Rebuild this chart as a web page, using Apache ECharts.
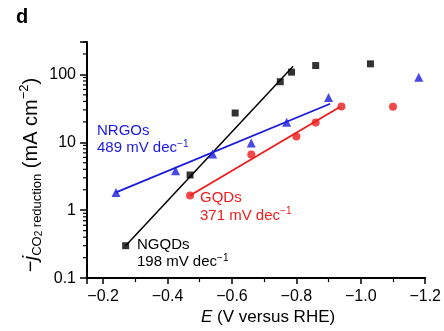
<!DOCTYPE html>
<html><head><meta charset="utf-8">
<script src="https://cdn.jsdelivr.net/npm/echarts@6/dist/echarts.min.js"></script>
<style>html,body{margin:0;padding:0;background:#fff}#c{width:444px;height:331px}</style>
</head><body><div id="c"></div>
<script>
// ---- data ----
const ngqdE = [-0.27, -0.47, -0.61, -0.75, -0.785, -0.86, -1.03];
const ngqdJ = [0.30, 3.3, 27, 78, 108, 135, 143];
const nrgoE = [-0.24, -0.425, -0.54, -0.66, -0.77, -0.90, -1.18];
const nrgoJ = [1.83, 3.8, 6.7, 9.8, 19.7, 45.7, 91];
const gqdE = [-0.47, -0.66, -0.80, -0.86, -0.94, -1.10];
const gqdJ = [1.65, 6.6, 12.2, 19.5, 33.7, 33.4];
const ngqdFitE = [-0.27, -0.79];
const ngqdFitJ = [0.30, 132];
const nrgoFitE = [-0.24, -0.905];
const nrgoFitJ = [1.83, 37];
const gqdFitE = [-0.47, -0.935];
const gqdFitJ = [1.65, 33];
const xTickLabels = [-0.2, -0.4, -0.6, -0.8, -1.0, -1.2];
const yTickLabels = [0.1, 1, 10, 100];
const yMinorTicks = [0.2,0.3,0.4,0.5,0.6,0.7,0.8,0.9,2,3,4,5,6,7,8,9,20,30,40,50,60,70,80,90,200,300];

const zip = (a, b) => a.map((v, i) => [v, b[i]]);
const FONT = '"Liberation Sans", Arial, sans-serif';
const BLUE = '#1a1ae0', RED = '#ee1c1c';

const chart = echarts.init(document.getElementById('c'), null, {renderer: 'canvas'});
chart.setOption({
  animation: false,
  backgroundColor: '#fff',
  grid: {left: 87, right: 15, top: 42, bottom: 52},
  xAxis: {
    type: 'value', inverse: true, min: -1.2, max: -0.15, interval: 0.2,
    axisLine: {lineStyle: {color: '#000', width: 2}},
    axisTick: {inside: false, length: 6, lineStyle: {color: '#000', width: 1.5}},
    minorTick: {show: true, splitNumber: 2, length: 4, lineStyle: {color: '#000', width: 1.2}},
    splitLine: {show: false},
    axisLabel: {
      margin: 10, color: '#000', fontSize: 16, fontFamily: FONT,
      formatter: v => {
        const hit = xTickLabels.find(t => Math.abs(t - v) < 1e-6);
        return hit === undefined ? '' : '\u2212' + Math.abs(hit).toFixed(1);
      }
    },
    name: '{i|E}{n| (V versus RHE)}', nameLocation: 'middle', nameGap: 27,
    nameTextStyle: {
      padding: [0, 0, 0, 24],
      rich: {
        i: {fontSize: 17, fontStyle: 'italic', fontFamily: FONT, color: '#000'},
        n: {fontSize: 17, fontFamily: FONT, color: '#000'}
      }
    }
  },
  yAxis: {
    type: 'log', logBase: 10, min: 0.1, max: 300,
    axisLine: {show: true, lineStyle: {color: '#000', width: 2}},
    axisTick: {show: true, inside: false, length: 7, lineStyle: {color: '#000', width: 1.5}},
    splitLine: {show: false},
    axisLabel: {
      margin: 11, color: '#000', fontSize: 16, fontFamily: FONT,
      formatter: v => {
        const hit = yTickLabels.find(t => Math.abs(Math.log10(t) - Math.log10(v)) < 1e-6);
        return hit === undefined ? '' : String(hit);
      }
    }
  },
  series: [
    {type: 'custom', coordinateSystem: 'cartesian2d', silent: true, clip: false, z: 5,
     data: yMinorTicks.map(v => [-0.15, v]),
     renderItem: (params, api) => {
       const p = api.coord([api.value(0), api.value(1)]);
       return {type: 'line', shape: {x1: p[0] - 4, y1: p[1], x2: p[0], y2: p[1]},
               style: {stroke: '#000', lineWidth: 1.2}};
     }},
    {type: 'line', data: zip(ngqdFitE, ngqdFitJ), showSymbol: false, lineStyle: {color: '#000', width: 1.5}, silent: true},
    {type: 'line', data: zip(nrgoFitE, nrgoFitJ), showSymbol: false, lineStyle: {color: BLUE, width: 1.8}, silent: true},
    {type: 'line', data: zip(gqdFitE, gqdFitJ), showSymbol: false, lineStyle: {color: RED, width: 1.8}, silent: true},
    {type: 'scatter', name: 'NGQDs', data: zip(ngqdE, ngqdJ), symbol: 'rect', symbolSize: 7, itemStyle: {color: '#000'}, z: 3},
    {type: 'scatter', name: 'NRGOs', data: zip(nrgoE, nrgoJ), symbol: 'triangle', symbolSize: 9, itemStyle: {color: BLUE}, z: 3},
    {type: 'scatter', name: 'GQDs', data: zip(gqdE, gqdJ), symbol: 'circle', symbolSize: 8, itemStyle: {color: RED}, z: 3}
  ],
  graphic: [
    {type: 'text', left: 16, top: 7, style: {text: 'd', fontSize: 20, fontWeight: 'bold', fontFamily: FONT, fill: '#000'}},
    {type: 'text', x: 31, y: 175, rotation: Math.PI / 2, style: {
      text: '{n|\u2212}{j|j}{s|CO}{s2|2}{s| reduction}{n| (mA cm}{sup|\u22122}{n|)}',
      align: 'center', verticalAlign: 'middle', fill: '#000',
      rich: {
        n: {fontSize: 20, lineHeight: 26, fontFamily: FONT, fill: '#000'},
        j: {fontSize: 21, lineHeight: 26, fontStyle: 'italic', fontFamily: FONT, fill: '#000'},
        s: {fontSize: 13, lineHeight: 13, verticalAlign: 'bottom', fontFamily: FONT, fill: '#000'},
        s2: {fontSize: 10, lineHeight: 9, verticalAlign: 'bottom', fontFamily: FONT, fill: '#000'},
        sup: {fontSize: 13, lineHeight: 13, verticalAlign: 'top', fontFamily: FONT, fill: '#000'}
      }}},
    {type: 'text', left: 97, top: 123, style: {
      text: '{a|NRGOs}\n{a|489 mV dec}{b|\u22121}', fill: BLUE,
      rich: {a: {fontSize: 15, lineHeight: 17, fontFamily: FONT, fill: BLUE}, b: {fontSize: 10, lineHeight: 10, verticalAlign: 'top', fontFamily: FONT, fill: BLUE}}}},
    {type: 'text', left: 200, top: 190, style: {
      text: '{a|GQDs}\n{a|371 mV dec}{b|\u22121}', fill: RED,
      rich: {a: {fontSize: 15, lineHeight: 18, fontFamily: FONT, fill: RED}, b: {fontSize: 10, lineHeight: 10, verticalAlign: 'top', fontFamily: FONT, fill: RED}}}},
    {type: 'text', left: 137, top: 237, style: {
      text: '{a|NGQDs}\n{a|198 mV dec}{b|\u22121}', fill: '#000',
      rich: {a: {fontSize: 15, lineHeight: 17, fontFamily: FONT, fill: '#000'}, b: {fontSize: 10, lineHeight: 10, verticalAlign: 'top', fontFamily: FONT, fill: '#000'}}}}
  ]
});
</script></body></html>
